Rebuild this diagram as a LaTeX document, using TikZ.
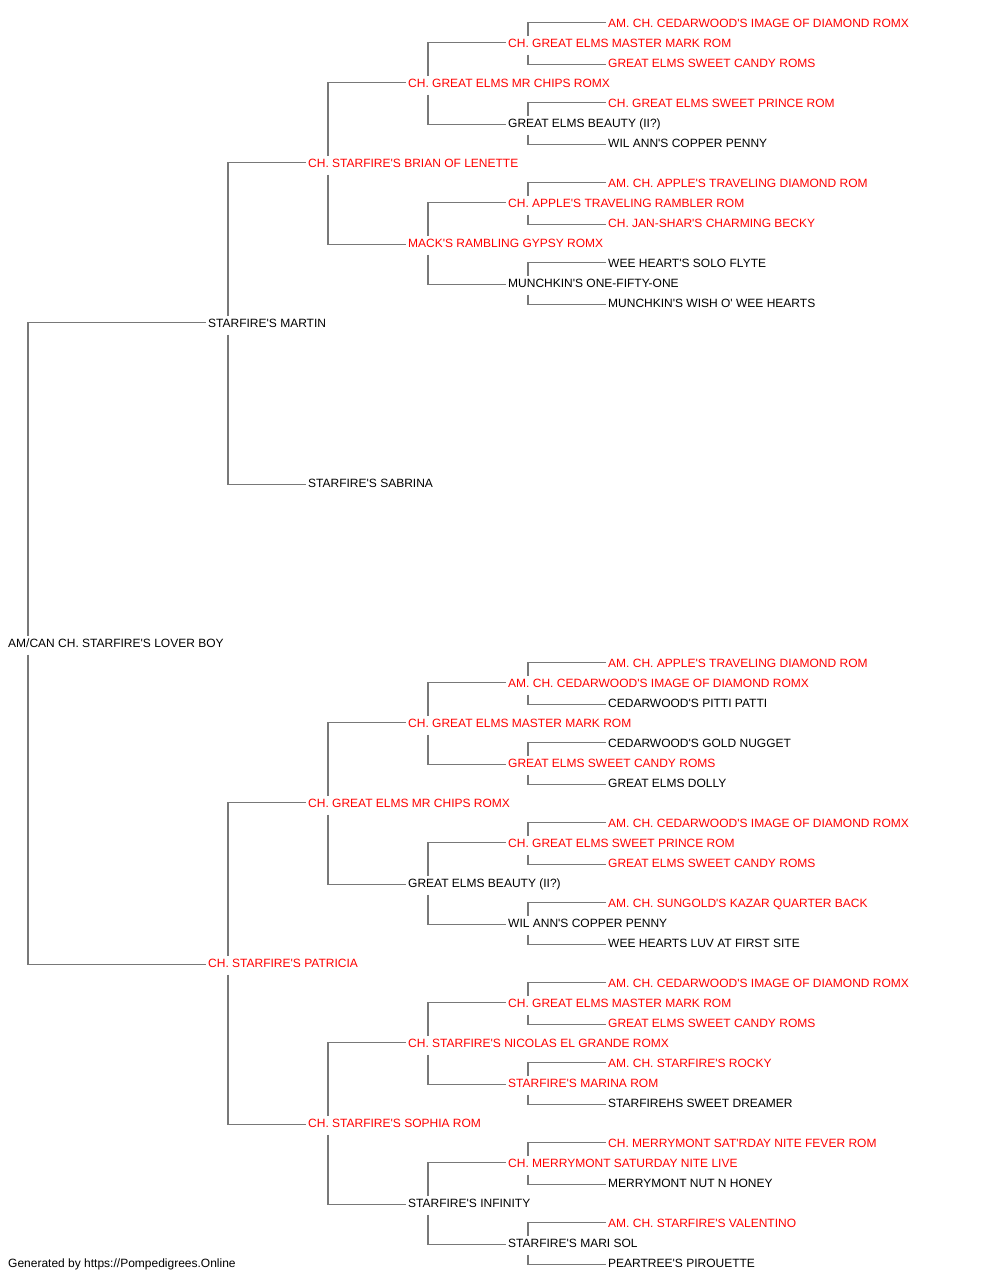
\documentclass[tikz,border=0pt]{standalone}
\usepackage{fontspec}
\setmainfont{Liberation Sans}[Ligatures=TeXOff]
\definecolor{pr}{RGB}{255,0,0}
\definecolor{pl}{RGB}{120,120,120}
\tikzset{
  pn/.style={anchor=west,inner xsep=2pt,inner ysep=0pt,text height=8.6pt,text depth=0pt,font=\fontsize{12pt}{14pt}\selectfont},
  conn/.style={draw=pl,line width=1.1pt},
}
\newcommand\pnode[4]{\node[pn,text=#3] (n#2) at ({(#1-2)*1pt},{-(23.5+20*#2)*1pt}) {#4};}
\newcommand\upc[2]{\draw[conn] ([xshift=22pt,yshift=8pt]n#1.west) |- ([yshift=1pt]n#2.west);}
\newcommand\dnc[2]{\draw[conn] ([xshift=22pt,yshift=-11pt]n#1.west) |- ([yshift=-1pt]n#2.west);}
\newcommand\both[3]{\upc{#1}{#2}\dnc{#1}{#3}}
\begin{document}
\begin{tikzpicture}[x=1pt,y=1pt]
\useasboundingbox[fill=white] (0,0) rectangle (1000,-1280);
% top half
\pnode{608}{0}{pr}{AM. CH. CEDARWOOD'S IMAGE OF DIAMOND ROMX}
\pnode{508}{1}{pr}{CH. GREAT ELMS MASTER MARK ROM}
\pnode{608}{2}{pr}{GREAT ELMS SWEET CANDY ROMS}
\pnode{408}{3}{pr}{CH. GREAT ELMS MR CHIPS ROMX}
\pnode{608}{4}{pr}{CH. GREAT ELMS SWEET PRINCE ROM}
\pnode{508}{5}{black}{GREAT ELMS BEAUTY (II?)}
\pnode{608}{6}{black}{WIL ANN'S COPPER PENNY}
\pnode{308}{7}{pr}{CH. STARFIRE'S BRIAN OF LENETTE}
\pnode{608}{8}{pr}{AM. CH. APPLE'S TRAVELING DIAMOND ROM}
\pnode{508}{9}{pr}{CH. APPLE'S TRAVELING RAMBLER ROM}
\pnode{608}{10}{pr}{CH. JAN-SHAR'S CHARMING BECKY}
\pnode{408}{11}{pr}{MACK'S RAMBLING GYPSY ROMX}
\pnode{608}{12}{black}{WEE HEART'S SOLO FLYTE}
\pnode{508}{13}{black}{MUNCHKIN'S ONE-FIFTY-ONE}
\pnode{608}{14}{black}{MUNCHKIN'S WISH O' WEE HEARTS}
\pnode{208}{15}{black}{STARFIRE'S MARTIN}
\pnode{308}{23}{black}{STARFIRE'S SABRINA}
\pnode{8}{31}{black}{AM/CAN CH. STARFIRE'S LOVER BOY}
% bottom half
\pnode{608}{32}{pr}{AM. CH. APPLE'S TRAVELING DIAMOND ROM}
\pnode{508}{33}{pr}{AM. CH. CEDARWOOD'S IMAGE OF DIAMOND ROMX}
\pnode{608}{34}{black}{CEDARWOOD'S PITTI PATTI}
\pnode{408}{35}{pr}{CH. GREAT ELMS MASTER MARK ROM}
\pnode{608}{36}{black}{CEDARWOOD'S GOLD NUGGET}
\pnode{508}{37}{pr}{GREAT ELMS SWEET CANDY ROMS}
\pnode{608}{38}{black}{GREAT ELMS DOLLY}
\pnode{308}{39}{pr}{CH. GREAT ELMS MR CHIPS ROMX}
\pnode{608}{40}{pr}{AM. CH. CEDARWOOD'S IMAGE OF DIAMOND ROMX}
\pnode{508}{41}{pr}{CH. GREAT ELMS SWEET PRINCE ROM}
\pnode{608}{42}{pr}{GREAT ELMS SWEET CANDY ROMS}
\pnode{408}{43}{black}{GREAT ELMS BEAUTY (II?)}
\pnode{608}{44}{pr}{AM. CH. SUNGOLD'S KAZAR QUARTER BACK}
\pnode{508}{45}{black}{WIL ANN'S COPPER PENNY}
\pnode{608}{46}{black}{WEE HEARTS LUV AT FIRST SITE}
\pnode{208}{47}{pr}{CH. STARFIRE'S PATRICIA}
\pnode{608}{48}{pr}{AM. CH. CEDARWOOD'S IMAGE OF DIAMOND ROMX}
\pnode{508}{49}{pr}{CH. GREAT ELMS MASTER MARK ROM}
\pnode{608}{50}{pr}{GREAT ELMS SWEET CANDY ROMS}
\pnode{408}{51}{pr}{CH. STARFIRE'S NICOLAS EL GRANDE ROMX}
\pnode{608}{52}{pr}{AM. CH. STARFIRE'S ROCKY}
\pnode{508}{53}{pr}{STARFIRE'S MARINA ROM}
\pnode{608}{54}{black}{STARFIREHS SWEET DREAMER}
\pnode{308}{55}{pr}{CH. STARFIRE'S SOPHIA ROM}
\pnode{608}{56}{pr}{CH. MERRYMONT SAT'RDAY NITE FEVER ROM}
\pnode{508}{57}{pr}{CH. MERRYMONT SATURDAY NITE LIVE}
\pnode{608}{58}{black}{MERRYMONT NUT N HONEY}
\pnode{408}{59}{black}{STARFIRE'S INFINITY}
\pnode{608}{60}{pr}{AM. CH. STARFIRE'S VALENTINO}
\pnode{508}{61}{black}{STARFIRE'S MARI SOL}
\pnode{608}{62}{black}{PEARTREE'S PIROUETTE}
\node[pn,text=black] (foot) at (6,-1263.5) {Generated by https://Pompedigrees.Online};
% connectors
\both{31}{15}{47}
\both{15}{7}{23}
\both{7}{3}{11}
\both{3}{1}{5}
\both{1}{0}{2}
\both{5}{4}{6}
\both{11}{9}{13}
\both{9}{8}{10}
\both{13}{12}{14}
\both{47}{39}{55}
\both{39}{35}{43}
\both{35}{33}{37}
\both{33}{32}{34}
\both{37}{36}{38}
\both{43}{41}{45}
\both{41}{40}{42}
\both{45}{44}{46}
\both{55}{51}{59}
\both{51}{49}{53}
\both{49}{48}{50}
\both{53}{52}{54}
\both{59}{57}{61}
\both{57}{56}{58}
\both{61}{60}{62}
\end{tikzpicture}
\end{document}
